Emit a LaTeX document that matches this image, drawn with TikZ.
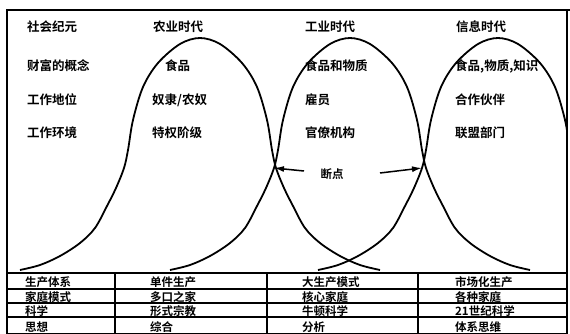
\documentclass[tikz,border=0pt]{standalone}
\usepackage{fontspec}
\newfontfamily\cjk{Noto Sans CJK SC Bold}
\usetikzlibrary{arrows.meta}
\begin{document}
\begin{tikzpicture}[x=1pt,y=-1pt,
  lbl/.style={anchor=west,inner sep=0pt,font=\cjk\fontsize{12.5}{14}\selectfont},
  tbl/.style={anchor=west,inner sep=0pt,font=\cjk\fontsize{11.5}{13}\selectfont},
  frame/.style={line width=1.3pt},
  rule/.style={line width=1.5pt},
  bell/.style={line width=1.8pt},
  brk/.style={line width=1.5pt,-{Latex[length=10pt,width=6pt]}},
  ]
\useasboundingbox (0,0) rectangle (570,334);
% frame
\draw[frame] (7,10) rectangle (567,334);
\draw[frame] (567,10) -- (570,10);
% bells
\begin{scope}
\clip (7,10) rectangle (567,334);
\foreach \p in {200,350,498} {
  \draw[bell, shift={(\p,38)}] plot[smooth, tension=0.55] coordinates {
    (-180,232) (-160,227) (-140,218) (-120,205) (-105,190) (-93,168) (-84,150)
    (-76,130) (-72,112) (-67,82) (-57,49) (-42,25) (-20,6) (0,0)
    (20,6) (42,25) (57,49) (67,82) (72,112) (76,130) (84,150) (93,168)
    (105,190) (120,205) (140,218) (160,227) (180,232)};
}
\end{scope}
% top texts
\node[lbl] (r1c1) at (27,27) {社会纪元};
\node[lbl] (r1c2) at (153,27) {农业时代};
\node[lbl] (r1c3) at (305,27) {工业时代};
\node[lbl] (r1c4) at (456,27) {信息时代};
\node[lbl] (r2c1) at (27,66) {财富的概念};
\node[lbl] (r2c2) at (165,66) {食品};
\node[lbl] (r2c3) at (305,66) {食品和物质};
\node[lbl] (r2c4) at (455,66) {食品,物质,知识};
\node[lbl] (r3c1) at (27,100) {工作地位};
\node[lbl] (r3c2) at (152,100) {奴隶/农奴};
\node[lbl] (r3c3) at (305,100) {雇员};
\node[lbl] (r3c4) at (455,100) {合作伙伴};
\node[lbl] (r4c1) at (27,133) {工作环境};
\node[lbl] (r4c2) at (152,133) {特权阶级};
\node[lbl] (r4c3) at (305,133) {官僚机构};
\node[lbl] (r4c4) at (455,133) {联盟部门};
% break points
\node[anchor=center,inner sep=0pt,font=\cjk\fontsize{11.5}{13}\selectfont] (dd) at (332,174) {断点};
\coordinate (a1) at (304,171);
\coordinate (c1) at (274,168);
\coordinate (a2) at (380,173);
\coordinate (c2) at (422,168);
\draw[brk] (a1) -- (c1);
\draw[brk] (a2) -- (c2);
% table
\draw[rule] (7,273) -- (567,273);
\draw[rule] (7,289) -- (567,289);
\draw[rule] (7,303) -- (567,303);
\draw[rule] (7,317) -- (567,317);
\foreach \x in {115,267,418} { \draw[rule] (\x,273) -- (\x,334); }
\node[tbl] (t11) at (25,282) {生产体系};
\node[tbl] (t12) at (150,282) {单件生产};
\node[tbl] (t13) at (302,282) {大生产模式};
\node[tbl] (t14) at (455,282) {市场化生产};
\node[tbl] (t21) at (25,297) {家庭模式};
\node[tbl] (t22) at (150,297) {多口之家};
\node[tbl] (t23) at (302,297) {核心家庭};
\node[tbl] (t24) at (455,297) {各种家庭};
\node[tbl] (t31) at (25,311) {科学};
\node[tbl] (t32) at (150,311) {形式宗教};
\node[tbl] (t33) at (302,311) {牛顿科学};
\node[tbl] (t34) at (455,311) {21世纪科学};
\node[tbl] (t41) at (25,327) {思想};
\node[tbl] (t42) at (150,327) {综合};
\node[tbl] (t43) at (302,327) {分析};
\node[tbl] (t44) at (455,327) {体系思维};
\end{tikzpicture}
\end{document}
